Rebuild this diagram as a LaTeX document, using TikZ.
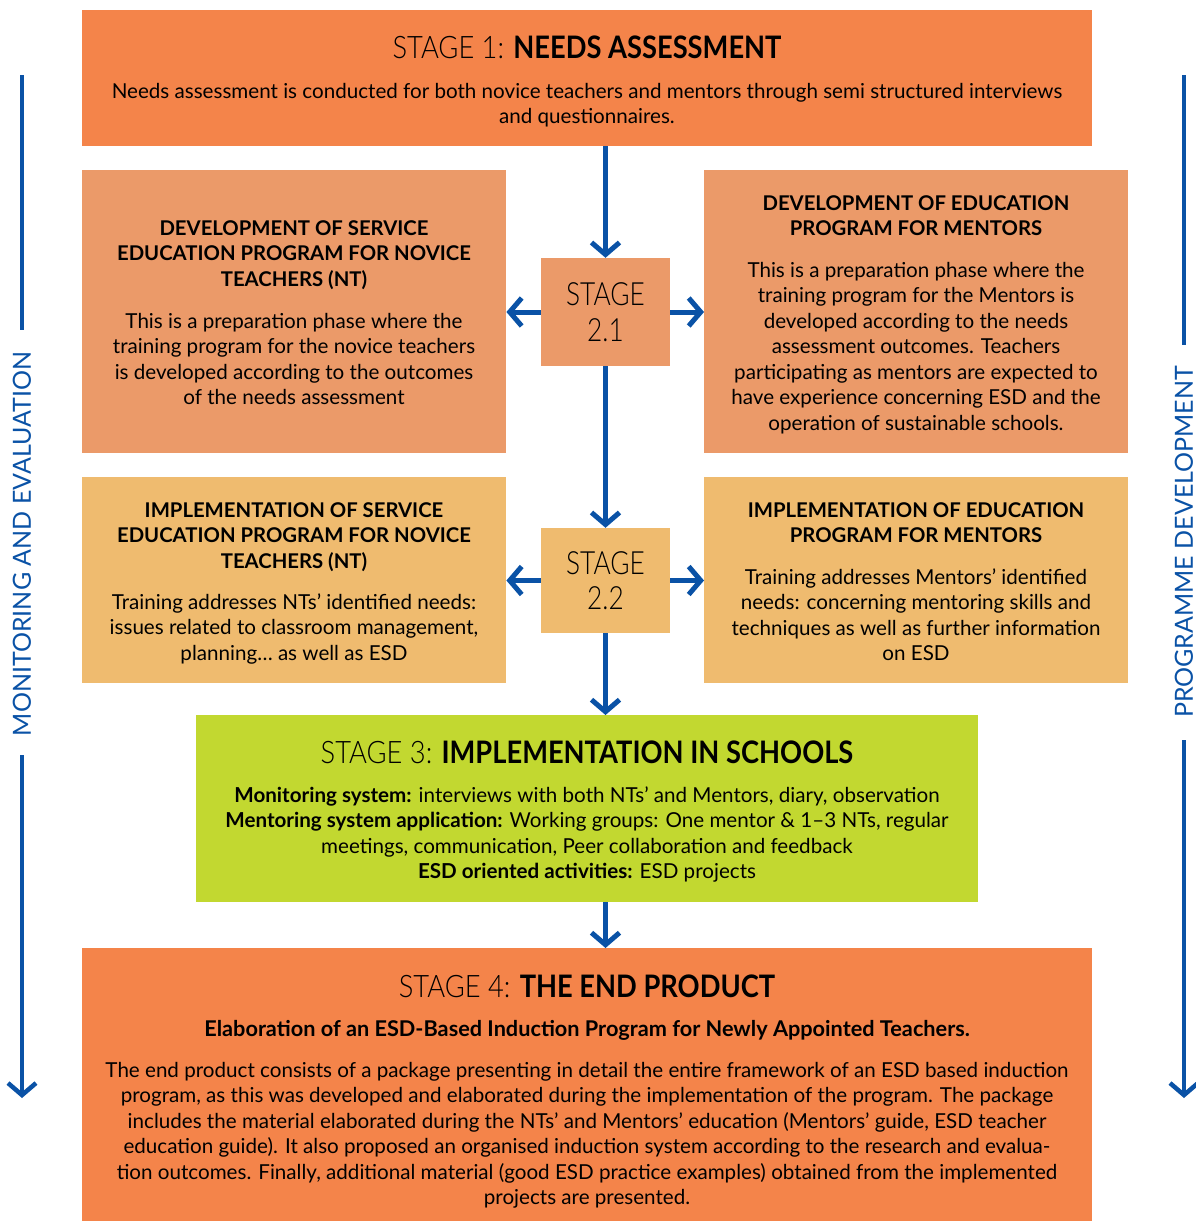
\documentclass[tikz,border=0pt]{standalone}
\usepackage{fontspec}
\setmainfont{Lato}
\newfontfamily\condfont[FakeStretch=0.88]{Lato}
\newfontfamily\condlight[FakeStretch=0.88]{Lato Light}
\newfontfamily\stglight[FakeStretch=0.82]{Lato Light}
\usetikzlibrary{arrows.meta}
\definecolor{orangeA}{HTML}{F4844A}
\definecolor{salmon}{HTML}{EB9A69}
\definecolor{tanbox}{HTML}{EFBB6F}
\definecolor{limebox}{HTML}{C2D830}
\definecolor{arrowblue}{HTML}{0A52A6}
\newcommand\myst{\rule{0pt}{16pt}}
\begin{document}
\begin{tikzpicture}[x=1pt,y=-1pt,
  box/.style={draw=none, inner sep=0, anchor=north west},
  txt/.style={inner sep=0, anchor=north, align=center, font=\fontsize{20.6}{25.5}\selectfont},
  hd/.style={txt, font=\bfseries\fontsize{20.3}{25.5}\selectfont},
  ttl/.style={inner sep=0, anchor=base, font=\condfont\fontsize{31}{36}\selectfont},
  stg/.style={inner sep=0, align=center, font=\stglight\fontsize{32}{35.5}\selectfont},
  side/.style={inner sep=0, rotate=90, text=arrowblue, font=\fontsize{25}{28}\selectfont},
  arr/.style={draw=arrowblue, line width=5pt, -{Straight Barb[length=12pt,width=28pt]}},
  sline/.style={draw=arrowblue, line width=4.5pt},
  sarr/.style={draw=arrowblue, line width=4.5pt, -{Straight Barb[length=12pt,width=28pt]}}
]
\useasboundingbox (0,0) rectangle (1196,1221);

% boxes
\node[box, fill=orangeA, minimum width=1010pt, minimum height=136pt] (s1) at (82,10) {};
\node[box, fill=salmon, minimum width=424pt, minimum height=283pt] (d1) at (82,170) {};
\node[box, fill=salmon, minimum width=424pt, minimum height=283pt] (d2) at (704,170) {};
\node[box, fill=tanbox, minimum width=424pt, minimum height=206pt] (i1) at (82,477) {};
\node[box, fill=tanbox, minimum width=424pt, minimum height=206pt] (i2) at (704,477) {};
\node[box, fill=limebox, minimum width=782pt, minimum height=187pt] (s3) at (196,715) {};
\node[box, fill=orangeA, minimum width=1010pt, minimum height=273pt] (s4) at (82,948) {};
\node[stg, fill=salmon, minimum width=129pt, minimum height=108pt] (s21) at (605.5,312) {STAGE\\2.1};
\node[stg, fill=tanbox, minimum width=129pt, minimum height=105pt] (s22) at (605.5,580.5) {STAGE\\2.2};

% stage 1
\node[ttl] (h1) at (587,58) {{\condlight STAGE 1:} \textbf{NEEDS ASSESSMENT}};
\node[txt] (t1) at (587,82) {\myst Needs assessment is conducted for both novice teachers and mentors through semi structured interviews\\and questionnaires.};

% development
\node[hd] (d1h) at (294,219) {\myst DEVELOPMENT OF SERVICE\\EDUCATION PROGRAM FOR NOVICE\\TEACHERS (NT)};
\node[txt] (d1t) at (294,312) {\myst This is a preparation phase where the\\training program for the novice teachers\\is developed according to the outcomes\\of the needs assessment};
\node[hd] (d2h) at (916,194) {\myst DEVELOPMENT OF EDUCATION\\PROGRAM FOR MENTORS};
\node[txt] (d2t) at (916,261) {\myst This is a preparation phase where the\\training program for the Mentors is\\developed according to the needs\\assessment outcomes. Teachers\\participating as mentors are expected to\\have experience concerning ESD and the\\operation of sustainable schools.};

% implementation
\node[hd] (i1h) at (294,501) {\myst IMPLEMENTATION OF SERVICE\\EDUCATION PROGRAM FOR NOVICE\\TEACHERS (NT)};
\node[txt] (i1t) at (294,593) {\myst Training addresses NTs’ identified needs:\\issues related to classroom management,\\planning… as well as ESD};
\node[hd] (i2h) at (916,501) {\myst IMPLEMENTATION OF EDUCATION\\PROGRAM FOR MENTORS};
\node[txt] (i2t) at (916,568) {\myst Training addresses Mentors’ identified\\needs: concerning mentoring skills and\\techniques as well as further information\\on ESD};

% stage 3
\node[ttl] (h3) at (587,763) {{\condlight STAGE 3:} \textbf{IMPLEMENTATION IN SCHOOLS}};
\node[txt] (t3) at (587,786) {\myst\textbf{Monitoring system:} interviews with both NTs’ and Mentors, diary, observation\\
\textbf{Mentoring system application:} Working groups: One mentor \& 1–3 NTs, regular\\
meetings, communication, Peer collaboration and feedback\\
\textbf{ESD oriented activities:} ESD projects};

% stage 4
\node[ttl] (h4) at (587,997) {{\condlight STAGE 4:} \textbf{THE END PRODUCT}};
\node[txt, anchor=base, font=\bfseries\fontsize{21.7}{25.5}\selectfont] (h4b) at (587,1036) {Elaboration of an ESD-Based Induction Program for Newly Appointed Teachers.};
\node[txt] (t4) at (587,1061) {\myst The end product consists of a package presenting in detail the entire framework of an ESD based induction\\
program, as this was developed and elaborated during the implementation of the program. The package\\
includes the material elaborated during the NTs’ and Mentors’ education (Mentors’ guide, ESD teacher\\
education guide). It also proposed an organised induction system according to the research and evalua-\\
tion outcomes. Finally, additional material (good ESD practice examples) obtained from the implemented\\
projects are presented.};

% arrows
\draw[arr] (s21.north |- s1.south) -- (s21.north);
\draw[arr] (s21.west) -- (s21.west -| d1.east);
\draw[arr] (s21.east) -- (s21.east -| d2.west);
\draw[arr] (s21.south) -- (s22.north);
\draw[arr] (s22.west) -- (s22.west -| i1.east);
\draw[arr] (s22.east) -- (s22.east -| i2.west);
\draw[arr] (s22.south) -- (s22.south |- s3.north);
\draw[arr] (s22.south |- s3.south) -- (s22.south |- s4.north);

% side arrows
\node[side] (mon) at (22,544) {MONITORING AND EVALUATION};
\node[side] (prog) at (1184,542) {PROGRAMME DEVELOPMENT};
\coordinate (la) at (22,75);
\coordinate (lb) at (22,330);
\coordinate (lc) at (22,755);
\coordinate (ld) at (22,1098);
\coordinate (ra) at (1184,75);
\coordinate (rb) at (1184,345);
\coordinate (rc) at (1184,740);
\coordinate (rd) at (1184,1098);
\draw[sline] (la) -- (lb);
\draw[sarr] (lc) -- (ld);
\draw[sline] (ra) -- (rb);
\draw[sarr] (rc) -- (rd);
\end{tikzpicture}
\end{document}
